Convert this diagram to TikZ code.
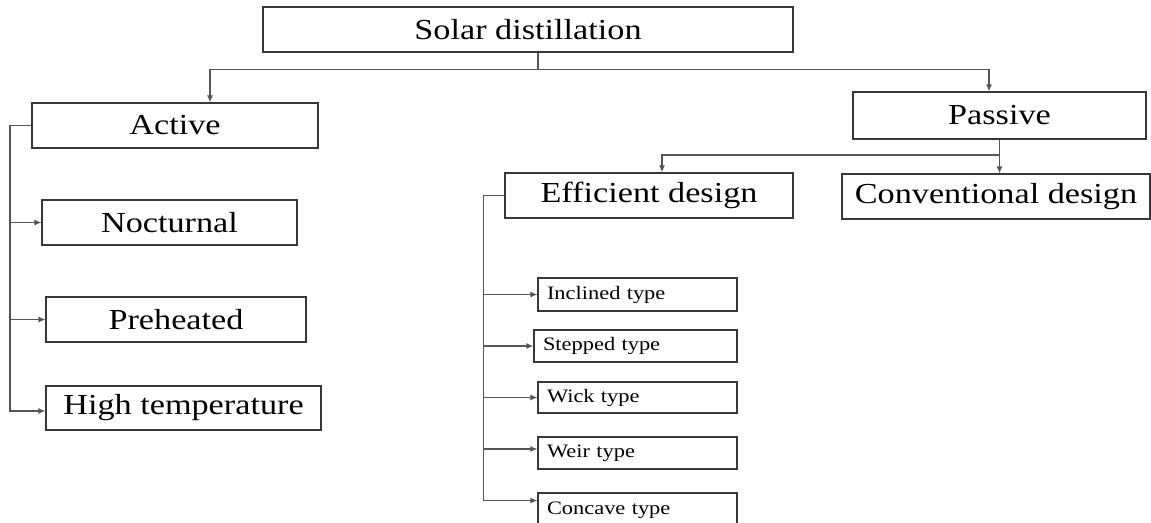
\documentclass[tikz,border=0pt]{standalone}
\usepackage{fontspec}
\setmainfont[FakeStretch=1.18]{Liberation Serif}
\usetikzlibrary{arrows.meta,calc}
\definecolor{boxgrey}{RGB}{55,55,55}
\definecolor{linegrey}{RGB}{85,85,85}
\tikzset{
  base/.style={rectangle, draw=boxgrey, line width=1.2pt, fill=white, text=black, inner sep=0pt},
  bigbox/.style={base, font=\fontsize{29}{31}\selectfont},
  smallbox/.style={base, font=\fontsize{19}{21}\selectfont, text width=181pt, align=left, inner xsep=9pt},
  conn/.style={draw=linegrey, line width=1.2pt},
  arr/.style={conn, -{Latex[length=7pt,width=6pt]}},
}
\begin{document}
\begin{tikzpicture}[x=1pt,y=-1pt]
  \useasboundingbox (0,0) rectangle (1151,522);
  % top level
  \node[bigbox,minimum width=530pt,minimum height=45pt] (root) at (528,29.5) {Solar distillation};
  \node[bigbox,minimum width=286pt,minimum height=45pt] (active) at (175,125.5) {Active};
  \node[bigbox,minimum width=293pt,minimum height=47pt] (passive) at (999.5,115.5) {Passive};
  % active branch
  \node[bigbox,minimum width=255pt,minimum height=45pt] (nocturnal) at (169.5,222.5) {Nocturnal};
  \node[bigbox,minimum width=260pt,minimum height=45pt] (preheated) at (176,319.5) {Preheated};
  \node[bigbox,minimum width=275pt,minimum height=44pt] (hightemp) at (183.5,408) {High temperature};
  % passive branch
  \node[bigbox,minimum width=288pt,minimum height=45pt] (efficient) at (649,195.5) {Efficient design};
  \node[bigbox,minimum width=308pt,minimum height=45pt] (conventional) at (996,196.5) {Conventional design};
  % efficient designs
  \node[smallbox,minimum height=33pt] (inclined) at (637.5,294.5) {Inclined type};
  \node[smallbox,minimum height=32pt,text width=185pt] (stepped) at (635.5,346) {Stepped type};
  \node[smallbox,minimum height=31pt] (wick) at (637.5,397.5) {Wick type};
  \node[smallbox,minimum height=32pt] (weir) at (637.5,453) {Weir type};
  \node[smallbox,minimum height=35pt] (concave) at (637.5,510.5) {Concave type};

  % root split
  \coordinate (rootbus) at (538,69.3);
  \draw[conn] ([xshift=10pt]root.south) -- (rootbus);
  \draw[arr] (rootbus) -| ([xshift=35pt]active.north);
  \draw[arr] (rootbus) -| ([xshift=-10.5pt]passive.north);
  % active trunk
  \coordinate (abus) at (10,0);
  \coordinate (htin) at ([yshift=-3pt]hightemp.west);
  \draw[arr] (active.west) -| (abus |- htin) -- (htin);
  \foreach \n in {nocturnal,preheated}
    \draw[arr] (abus |- \n.west) -- (\n.west);
  % passive split
  \coordinate (pbus) at (999,155);
  \draw[arr] (passive.south) -- (passive.south |- conventional.north);
  \draw[arr] (pbus) -| ([xshift=13pt]efficient.north);
  % efficient trunk
  \coordinate (ebus) at (483.5,0);
  \coordinate (weirin) at ([yshift=4pt]weir.west);
  \coordinate (concin) at ([yshift=10pt]concave.west);
  \draw[arr] (efficient.west) -| (ebus |- concin) -- (concin);
  \foreach \n in {inclined,stepped,wick}
    \draw[arr] (ebus |- \n.west) -- (\n.west);
  \draw[arr] (ebus |- weirin) -- (weirin);
\end{tikzpicture}
\end{document}
